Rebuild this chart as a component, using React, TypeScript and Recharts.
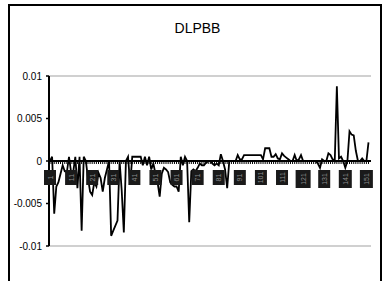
import { LineChart, Line, XAxis, YAxis, CartesianGrid, ReferenceLine } from 'recharts';

// DLPBB series, one value per observation
const values: number[] = [
  0, 0.0005, -0.0062, -0.003, -0.0025, -0.0015, -0.0005, -0.0012, -0.0013, 0.0005,
  -0.0013, -0.0013, 0.0005, -0.0032, 0.0005, -0.0082, 0.0005, 0, -0.002, -0.0036,
  -0.004, -0.0025, -0.003, -0.0014, -0.002, -0.0036, -0.002, -0.001, 0, -0.0088,
  -0.0082, -0.0076, -0.007, 0, -0.0035, -0.0084, 0, 0.0005, -0.0028, 0.0005,
  0.0005, 0.0005, 0.0005, 0.0005, -0.0005, 0.0005, -0.0005, 0.0005, -0.001, -0.0003,
  -0.0015, -0.0025, -0.0042, -0.0015, -0.0008, -0.001, -0.0013, -0.0025, -0.0028, -0.003,
  -0.003, -0.0036, 0.0005, -0.0005, 0.0005, 0, -0.0072, -0.0012, -0.001, -0.0012,
  -0.0008, -0.0003, -0.0005, -0.0005, -0.0002, 0, 0, -0.0003, -0.0005, -0.0003,
  -0.0005, 0.0008, 0, -0.001, -0.0032, 0, 0, 0, 0, 0.0007,
  0.0002, 0.0002, 0.0007, 0.0007, 0.0007, 0.0007, 0.0007, 0.0007, 0.0007, 0.0007,
  0.0007, 0.0002, 0.0015, 0.0015, 0.0015, 0.0005, 0.0005, 0.0008, 0.0003, 0.0002,
  0.0009, 0.0006, 0.0004, 0.0002, 0, 0, 0.0007, 0, 0.0002, 0.0007,
  0, 0, 0, 0, 0, 0, 0, -0.0003, -0.0008, 0.0002,
  0, 0, 0.0009, 0.0007, 0.0002, 0, 0.0088, 0.0003, 0.0005, 0,
  -0.0008, 0, 0.0035, 0.0031, 0.003, 0.0012, 0, 0, 0.0003, 0,
  0, 0.0022,
];

const categories: string[] = values.map((_, i) => String(i + 1));
const yTicks = [-0.01, -0.005, 0, 0.005, 0.01];
const yTickLabels = ['-0.01', '-0.005', '0', '0.005', '0.01'];

const W = 382;
const H = 281;
const TOP = 76;
const BOTTOM = 35;
const Y_MIN = -0.01;
const Y_MAX = 0.01;
const ZERO_Y = TOP + ((H - TOP - BOTTOM) * Y_MAX) / (Y_MAX - Y_MIN);
const FONT = '"Liberation Sans", Arial, sans-serif';

const data = categories.map((name, i) => ({ name, value: values[i] }));

function CategoryTick(props: any) {
  const { x, payload } = props;
  const i = payload.index ?? props.index;
  const mark = <line x1={x} x2={x} y1={ZERO_Y} y2={ZERO_Y + 3} stroke="#000" strokeWidth={1} />;
  if (i % 10 !== 0) return <g>{mark}</g>;
  const w = i === 120 ? 15 : i >= 140 ? 13 : 12;
  const h = i >= 120 ? 18 : 15;
  const top = ZERO_Y + 9;
  const cy = top + h / 2;
  return (
    <g>
      {mark}
      <rect x={x - w / 2} y={top} width={w} height={h} fill="#1a1a1a" />
      <text
        x={x}
        y={cy}
        transform={`rotate(-90, ${x}, ${cy})`}
        textAnchor="middle"
        dominantBaseline="central"
        fontSize={7}
        fill="#8a8a8a"
        fontFamily={FONT}
      >
        {payload.value}
      </text>
    </g>
  );
}

export default function App() {
  return (
    <div style={{ position: 'absolute', left: 0, top: 0, width: W, height: H, overflow: 'hidden', background: '#fff' }}>
      <div
        style={{
          position: 'absolute',
          left: 8,
          top: 4,
          width: 374,
          height: 300,
          border: '2px solid #000',
          boxSizing: 'border-box',
        }}
      />
      <div
        style={{
          position: 'absolute',
          left: 10,
          top: 20,
          width: 375,
          textAlign: 'center',
          fontFamily: FONT,
          fontSize: 14,
          lineHeight: '16px',
          color: '#000',
        }}
      >
        DLPBB
      </div>
      <div style={{ position: 'absolute', left: 0, top: 0 }}>
        <LineChart width={W} height={H} data={data} margin={{ top: TOP, right: 11, bottom: BOTTOM - 1, left: 9 }}>
          <CartesianGrid vertical={false} stroke="#c0c0c0" strokeWidth={1.5} />
          <XAxis
            dataKey="name"
            interval={0}
            height={1}
            axisLine={false}
            tickLine={false}
            padding={{ left: 1, right: 2.5 }}
            tick={<CategoryTick />}
          />
          <YAxis
            yAxisId="left"
            domain={[Y_MIN, Y_MAX]}
            ticks={yTicks}
            width={40}
            tickSize={3}
            tickMargin={4}
            tickFormatter={(v: number) => yTickLabels[yTicks.indexOf(v)] ?? String(v)}
            tick={{ fontSize: 10, fill: '#000', fontFamily: FONT }}
            axisLine={{ stroke: '#000', strokeWidth: 2 }}
            tickLine={{ stroke: '#000', strokeWidth: 1.5 }}
          />
          <YAxis
            yAxisId="right"
            orientation="right"
            domain={[Y_MIN, Y_MAX]}
            width={0}
            tick={false}
            tickLine={false}
            axisLine={{ stroke: '#c0c0c0', strokeWidth: 1.5 }}
          />
          <Line
            yAxisId="left"
            type="linear"
            dataKey="value"
            stroke="#000"
            strokeWidth={1.8}
            dot={false}
            isAnimationActive={false}
          />
          <ReferenceLine yAxisId="left" y={0} stroke="#000" strokeWidth={2} />
        </LineChart>
      </div>
    </div>
  );
}
